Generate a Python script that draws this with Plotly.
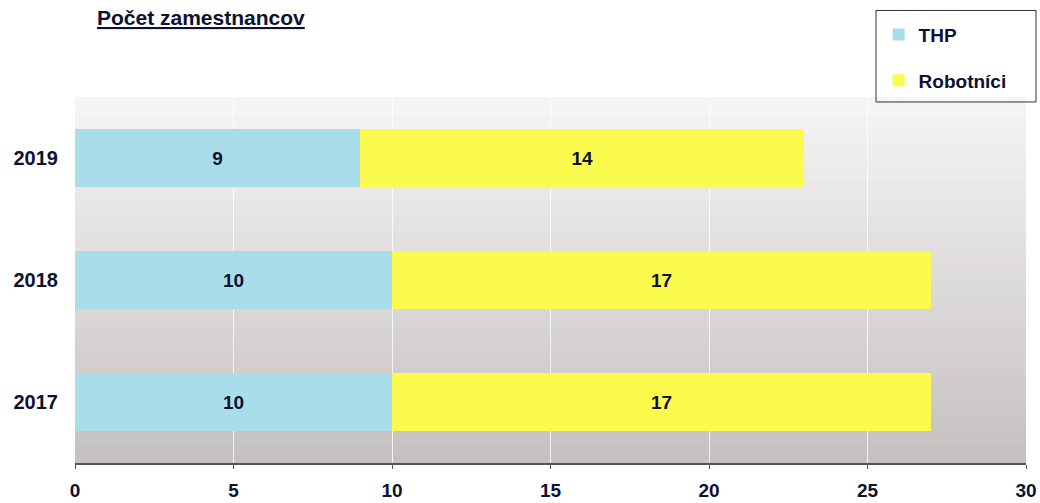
import plotly.graph_objects as go

years = ["2017", "2018", "2019"]
thp = [10, 10, 9]
robotnici = [17, 17, 14]
x_ticks = [0, 5, 10, 15, 20, 25, 30]
title_text = "Počet zamestnancov"

FONT = "Liberation Sans, Arial, sans-serif"
TXT = "#0d1230"

fig = go.Figure()
fig.add_trace(go.Bar(
    y=years, x=thp, name="THP", orientation="h",
    marker=dict(color="#a8dde9", line=dict(width=0)),
    text=thp, textposition="inside", insidetextanchor="middle",
    textfont=dict(family=FONT, size=19, color=TXT, weight="bold"),
    legendgroup="a",
))
fig.add_trace(go.Bar(
    y=years, x=robotnici, name="Robotníci", orientation="h",
    marker=dict(color="#fbfb4e", line=dict(width=0)),
    text=robotnici, textposition="inside", insidetextanchor="middle",
    textfont=dict(family=FONT, size=19, color=TXT, weight="bold"),
    legendgroup="b",
))

# vertical gradient background of plot area
n = 40
top = (246, 244, 244)
bot = (198, 193, 193)
shapes = []
for i in range(n):
    t = i / (n - 1)
    c = tuple(int(round(top[k] + (bot[k] - top[k]) * t)) for k in range(3))
    shapes.append(dict(
        type="rect", xref="paper", yref="paper", layer="below",
        x0=0, x1=1, y0=max(0, 1 - (i + 1.6) / n), y1=1 - i / n,
        fillcolor="rgb(%d,%d,%d)" % c, line=dict(width=0),
    ))
# legend frame
shapes.append(dict(
    type="rect", xref="paper", yref="paper", layer="above",
    x0=0.8423, x1=1.0105, y0=0.9864, y1=1.2364,
    fillcolor="rgba(0,0,0,0)", line=dict(color="#333333", width=1),
))

fig.update_layout(
    width=1040, height=503,
    margin=dict(l=75, r=14, t=97, b=40),
    barmode="stack", bargap=0.53,
    paper_bgcolor="white", plot_bgcolor="rgba(0,0,0,0)",
    shapes=shapes,
    font=dict(family=FONT, color=TXT),
    showlegend=True,
    legend=dict(
        x=0.845, y=1.222, xanchor="left", yanchor="top",
        borderwidth=0, bgcolor="rgba(0,0,0,0)",
        font=dict(family=FONT, size=19, color=TXT, weight="bold"),
        traceorder="grouped", tracegroupgap=18,
        itemwidth=30,
    ),
    annotations=[dict(
        text="<u>" + title_text + "</u>", xref="paper", yref="paper",
        x=0.021, y=1.216, xanchor="left", yanchor="middle", showarrow=False,
        font=dict(family=FONT, size=21, color=TXT, weight="bold"),
    )],
    xaxis=dict(
        range=[0, 30], tickvals=x_ticks, ticktext=[str(v) for v in x_ticks],
        showgrid=True, gridcolor="rgba(255,255,255,0.8)", gridwidth=1,
        zeroline=False, showline=True, linecolor="#555555", linewidth=1.5,
        ticks="outside", ticklen=4, tickcolor="#555555",
        ticklabelstandoff=5,
        tickfont=dict(family=FONT, size=19, color=TXT, weight="bold"),
        automargin=False,
    ),
    yaxis=dict(
        categoryorder="array", categoryarray=years,
        showgrid=False, zeroline=False, showline=False,
        ticks="", ticklabelstandoff=16,
        tickfont=dict(family=FONT, size=20, color=TXT, weight="bold"),
        automargin=False,
    ),
)
fig.write_html("out.html", config={"displayModeBar": False},
               post_script="document.body.style.margin='0';")
